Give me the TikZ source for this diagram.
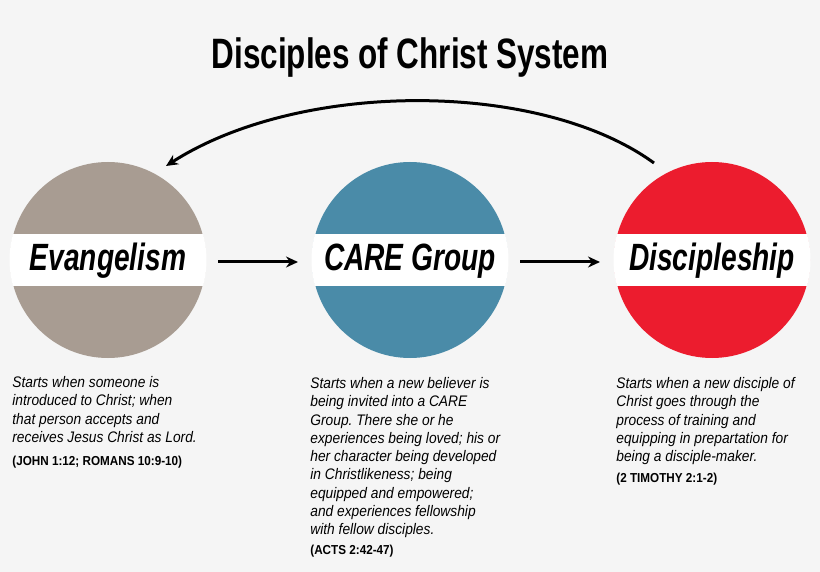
\documentclass[tikz,border=0pt]{standalone}
\usepackage{fontspec}
\setmainfont{Liberation Sans}
\frenchspacing
\newfontfamily\condfont[FakeStretch=0.74]{Liberation Sans}
\newfontfamily\bodyfont[FakeStretch=0.9]{Liberation Sans}
\usetikzlibrary{arrows.meta,positioning}
\definecolor{evgray}{HTML}{A89C92}
\definecolor{careblue}{HTML}{4A8BA8}
\definecolor{discred}{HTML}{EC1C2E}
\definecolor{bggray}{HTML}{F5F5F5}
\begin{document}
\begin{tikzpicture}[x=1pt,y=-1pt,thick,
  >={Stealth[length=12pt,width=11pt]},
  stage node/.style={circle,minimum size=196pt,inner sep=0pt,fill=#1},
  label node/.style={font=\condfont\bfseries\itshape\fontsize{38}{40}\selectfont},
  info node/.style={anchor=north west,align=left,inner sep=0pt,
    font=\bodyfont\itshape\fontsize{15.3}{18.3}\selectfont},
  ref node/.style={anchor=north west,inner sep=0pt,font=\bodyfont\bfseries\fontsize{13}{15}\selectfont}]

  \fill[bggray] (0,0) rectangle (820,572);
  \useasboundingbox (0,0) rectangle (820,572);

  \node (title) at (410,58) {\condfont\bfseries\fontsize{42.5}{46}\selectfont Disciples of Christ System};

  \node[stage node=evgray] (ev) at (108,260) {};
  \node[stage node=careblue] (care) at (410,260) {};
  \node[stage node=discred] (disc) at (712,260) {};

  % white bands
  \foreach \c in {ev,care,disc}{
    \begin{scope}
      \clip (\c) circle (98.5pt);
      \fill[white] ([xshift=-110pt,yshift=26pt]\c.center) rectangle ([xshift=110pt,yshift=-26pt]\c.center);
    \end{scope}
  }
  \node[label node] (evtext) at (108,261) {Evangelism};
  \node[label node] (caretext) at (410,261) {CARE Group};
  \node[label node] (disctext) at (712,261) {Discipleship};

  % flow arrows
  \coordinate (a1) at (218,262);
  \coordinate (a2) at (298,262);
  \coordinate (b1) at (520,262);
  \coordinate (b2) at (600,262);
  \draw[->,line width=3pt] (a1) -- (a2);
  \draw[->,line width=3pt] (b1) -- (b2);

  % return arrow
  \coordinate (r1) at (654,163);
  \coordinate (r2) at (166,166);
  \draw[->,line width=3pt] (r1) .. controls (540,80) and (300,80) .. (r2);

  \node[info node] (evinfo) at (12,376) {Starts when someone is\\introduced to Christ; when\\that person accepts and\\receives Jesus Christ as Lord.};
  \node[ref node] (evref) at (12,456) {(JOHN 1:12; ROMANS 10:9-10)};

  \node[info node] (careinfo) at (310,377) {Starts when a new believer is\\being invited into a CARE\\Group. There she or he\\experiences being loved; his or\\her character being developed\\in Christlikeness; being\\equipped and empowered;\\and experiences fellowship\\with fellow disciples.};
  \node[ref node] (careref) at (310,545) {(ACTS 2:42-47)};

  \node[info node] (discinfo) at (616,377) {Starts when a new disciple of\\Christ goes through the\\process of training and\\equipping in prepartation for\\being a disciple-maker.};
  \node[ref node] (discref) at (616,473) {(2 TIMOTHY 2:1-2)};
\end{tikzpicture}
\end{document}
